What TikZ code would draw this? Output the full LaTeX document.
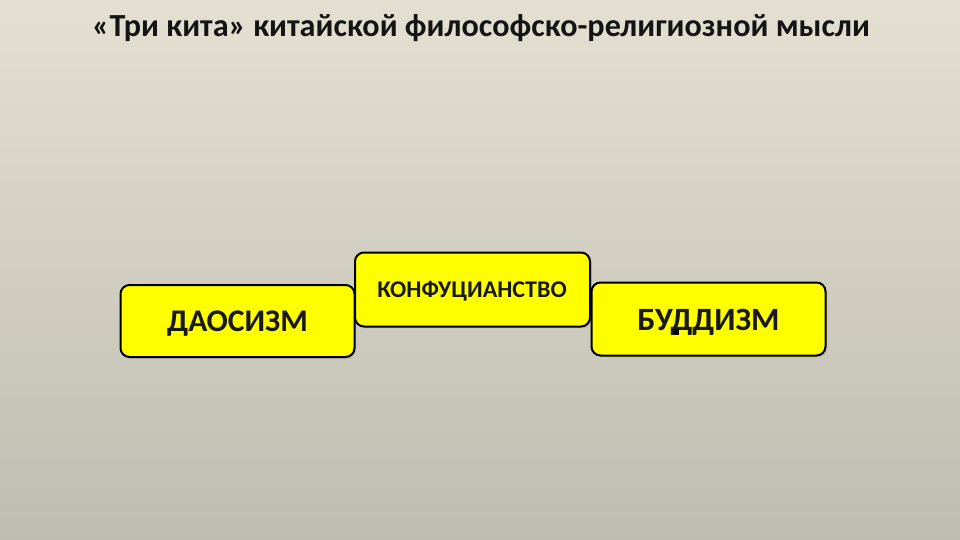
\documentclass[tikz,border=0pt]{standalone}
\usepackage{fontspec}
\setmainfont{Carlito}
\usetikzlibrary{shadows}
\definecolor{bgtop}{RGB}{227,224,210}
\definecolor{bgbot}{RGB}{191,189,177}
\definecolor{boxyellow}{RGB}{255,255,0}
\tikzset{
  whale/.style={draw=black, line width=2pt, fill=boxyellow, rounded corners=9pt,
    minimum width=234pt, inner sep=0pt, font=\bfseries, text=black!90,
    drop shadow={shadow xshift=1.5pt, shadow yshift=-1.5pt, opacity=0.35}},
  label/.style={text=black!90},
}
\begin{document}
\begin{tikzpicture}[x=1pt,y=-1pt]
\useasboundingbox (0,0) rectangle (960,540);
\shade[top color=bgtop, bottom color=bgbot] (0,0) rectangle (960,540);
\node[font=\bfseries\fontsize{32.2}{38}\selectfont, text=black!92] (title) at (481,28) {«Три кита» китайской философско-религиозной мысли};
\node[whale, minimum height=72pt] (dao) at (237.5,321) {};
\node[label, font=\bfseries\fontsize{31.5}{36}\selectfont] (daotext) at (237.5,324) {ДАОСИЗМ};
\node[whale, minimum height=74pt, minimum width=235pt] (kon) at (472.5,289.5) {};
\node[label, font=\bfseries\fontsize{24}{28}\selectfont] (kontext) at (472,291) {КОНФУЦИАНСТВО};
\node[whale, minimum height=73pt] (bud) at (708.5,319) {};
\node[label, font=\bfseries\fontsize{32.5}{38}\selectfont] (budtext) at (708.5,322) {БУДДИЗМ};
\fill[black] (673.5,329) rectangle (678.5,335);
\end{tikzpicture}
\end{document}
